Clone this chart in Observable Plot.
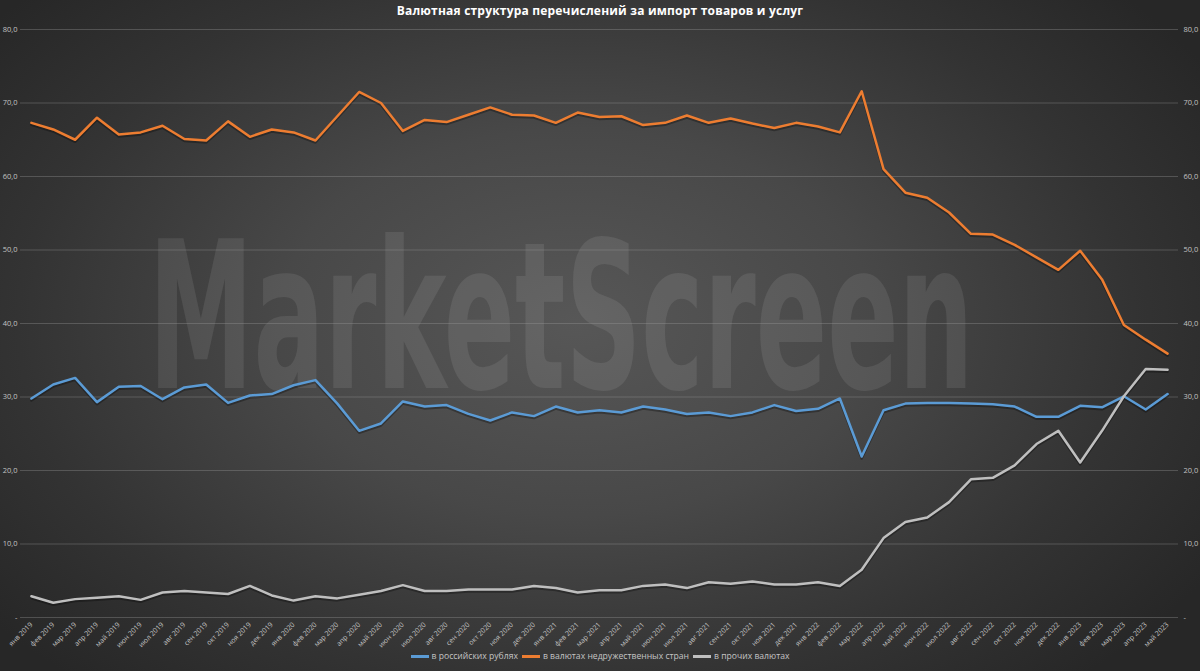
<!DOCTYPE html>
<html><head><meta charset="utf-8">
<script src="https://cdn.jsdelivr.net/npm/d3@7"></script>
<script src="https://cdn.jsdelivr.net/npm/@observablehq/plot@0.6"></script>
<style>
html,body{margin:0;padding:0;background:#262626;}
#wrap{position:relative;width:1200px;height:671px;overflow:hidden;
 background: radial-gradient(ellipse 62% 72% at 48% 48%, #575757 0%, #484848 40%, #333 75%, #272727 100%);
 font-family:"Open Sans",sans-serif;}
#title{position:absolute;top:2px;left:0;width:1200px;text-align:center;color:#fff;font-weight:700;font-size:12px;letter-spacing:0.2px;}
#legend{position:absolute;top:650px;left:0;width:1200px;display:flex;justify-content:center;align-items:center;font-size:8.6px;color:#c4c4c4;}
#legend .item{display:flex;align-items:center;margin:0 2px;}
#legend .sw{width:18px;height:3px;margin-right:3px;}
#chart{position:absolute;left:0;top:0;}
</style></head>
<body>
<div id="wrap">
 <div id="chart"></div>
 <div id="title"></div>
 <div id="legend"></div>
</div>
<script>
const titleText = "Валютная структура перечислений за импорт товаров и услуг";
const watermark = "MarketScreen";
const months = [
 "янв 2019","фев 2019","мар 2019","апр 2019","май 2019","июн 2019","июл 2019","авг 2019","сен 2019","окт 2019","ноя 2019","дек 2019",
 "янв 2020","фев 2020","мар 2020","апр 2020","май 2020","июн 2020","июл 2020","авг 2020","сен 2020","окт 2020","ноя 2020","дек 2020",
 "янв 2021","фев 2021","мар 2021","апр 2021","май 2021","июн 2021","июл 2021","авг 2021","сен 2021","окт 2021","ноя 2021","дек 2021",
 "янв 2022","фев 2022","мар 2022","апр 2022","май 2022","июн 2022","июл 2022","авг 2022","сен 2022","окт 2022","ноя 2022","дек 2022",
 "янв 2023","фев 2023","мар 2023","апр 2023","май 2023"
];
const rub = [
 29.8, 31.7, 32.6, 29.3, 31.4, 31.5, 29.7, 31.3, 31.7, 29.2, 30.2, 30.4,
 31.6, 32.3, 29.1, 25.4, 26.4, 29.4, 28.7, 28.9, 27.7, 26.8, 27.9, 27.4,
 28.7, 27.9, 28.2, 27.9, 28.7, 28.3, 27.7, 27.9, 27.4, 27.9, 28.9, 28.1,
 28.4, 29.8, 21.9, 28.2, 29.1, 29.2, 29.2, 29.1, 29.0, 28.7, 27.3, 27.3,
 28.8, 28.6, 30.1, 28.3, 30.4
];
const unfriendly = [
 67.3, 66.4, 65.0, 68.0, 65.7, 66.0, 66.9, 65.1, 64.9, 67.5, 65.4, 66.4,
 66.0, 64.9, 68.2, 71.5, 70.0, 66.2, 67.7, 67.4, 68.4, 69.4, 68.4, 68.3,
 67.3, 68.7, 68.1, 68.2, 67.0, 67.3, 68.3, 67.3, 67.9, 67.2, 66.6, 67.3,
 66.8, 66.0, 71.6, 61.0, 57.8, 57.1, 55.1, 52.2, 52.1, 50.7, 49.0, 47.3,
 49.9, 46.0, 39.8, 37.8, 35.9
];
const other = [
 2.9, 2.0, 2.5, 2.7, 2.9, 2.4, 3.4, 3.6, 3.4, 3.2, 4.3, 3.0,
 2.3, 2.9, 2.6, 3.1, 3.6, 4.4, 3.6, 3.6, 3.8, 3.8, 3.8, 4.3,
 4.0, 3.4, 3.7, 3.7, 4.3, 4.5, 4.0, 4.8, 4.6, 4.9, 4.5, 4.5,
 4.8, 4.3, 6.5, 10.8, 13.0, 13.6, 15.7, 18.8, 19.0, 20.7, 23.6, 25.4,
 21.1, 25.4, 30.1, 33.8, 33.7
];
const seriesNames = ["в российских рублях", "в валютах недружественных стран", "в прочих валютах"];
const seriesColors = ["#5B9BD5", "#ED7D31", "#BFBFBF"];
const yTicks = [0, 10, 20, 30, 40, 50, 60, 70, 80];

const seriesValues = [rub, unfriendly, other];
const data = seriesNames.flatMap((s, i) => seriesValues[i].map((v, j) => ({series: s, month: months[j], value: v})));
const fmt = d => d === 0 ? "-" : d.toFixed(1).replace(".", ",");

const chart = Plot.plot({
  width: 1200, height: 671,
  marginTop: 29, marginBottom: 54, marginLeft: 20, marginRight: 22,
  style: {background: "transparent", color: "#c2c2c2", fontFamily: "'Open Sans', sans-serif"},
  x: {type: "point", domain: months, padding: 0.5, label: null},
  y: {domain: [0, 80], label: null},
  color: {domain: seriesNames, range: seriesColors},
  marks: [
    Plot.text([watermark], {frameAnchor: "middle", text: d => d, fontSize: 205, fontWeight: "bold",
      fontFamily: "'DejaVu Sans', sans-serif", fill: "#ffffff", fillOpacity: 0.085,
      lineAnchor: "bottom", dx: -26, dy: 64}),
    Plot.gridY(yTicks, {stroke: "#9a9a9a", strokeOpacity: 0.35}),
    Plot.axisY(yTicks, {anchor: "left", tickFormat: fmt, tickSize: 0, tickPadding: 3, fontSize: 7.5, label: null}),
    Plot.axisY(yTicks, {anchor: "right", tickFormat: fmt, tickSize: 0, tickPadding: 5, fontSize: 7.5, label: null}),
    Plot.axisX({tickRotate: -45, tickSize: 0, tickPadding: 6, fontSize: 7, label: null}),
    Plot.lineY(data, {x: "month", y: "value", z: "series", stroke: "#000", strokeOpacity: 0.3, strokeWidth: 2.5, dy: 2}),
    Plot.lineY(data, {x: "month", y: "value", z: "series", stroke: "series", strokeWidth: 2.5})
  ]
});
document.getElementById("chart").appendChild(chart);
// squeeze the watermark horizontally to its target width, around its own centre
const svgLeft = chart.getBoundingClientRect().left;
d3.select(chart).selectAll("text").filter(function() { return this.textContent === watermark; })
  .each(function() {
    const r = this.getBoundingClientRect();
    const cx = r.left - svgLeft + r.width / 2;
    const s = 825 / r.width;
    const g = document.createElementNS("http://www.w3.org/2000/svg", "g");
    g.setAttribute("transform", `translate(${cx},0) scale(${s},1) translate(${-cx},0)`);
    this.parentNode.insertBefore(g, this);
    g.appendChild(this);
  });
document.getElementById("title").textContent = titleText;
const legend = d3.select("#legend");
seriesNames.forEach((s, i) => {
  const it = legend.append("div").attr("class", "item");
  it.append("div").attr("class", "sw").style("background", seriesColors[i]);
  it.append("span").text(s);
});
</script>
</body></html>
